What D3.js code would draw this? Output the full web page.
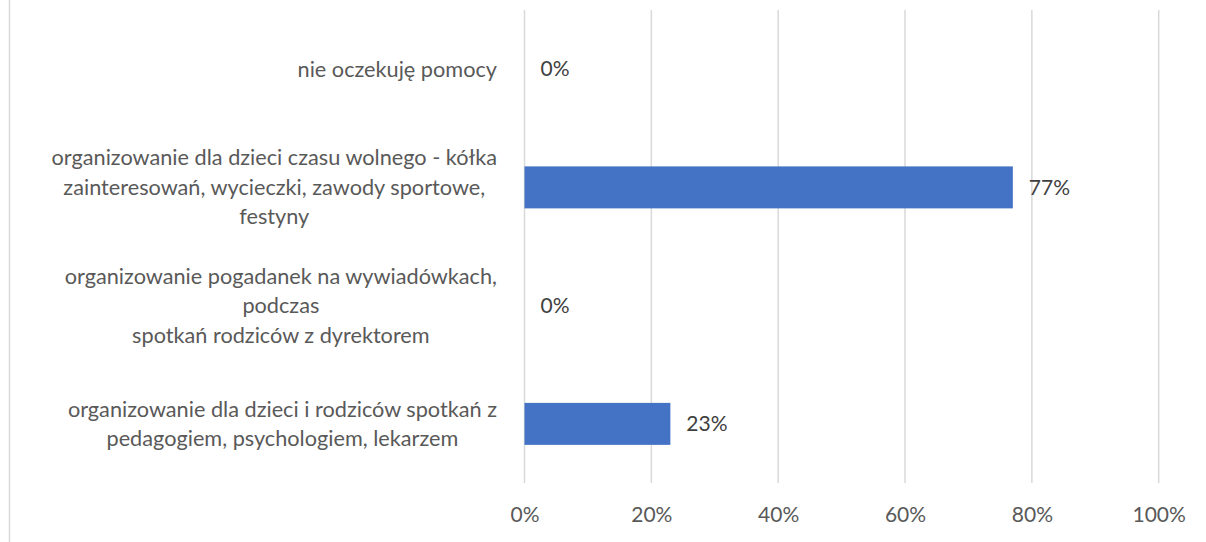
<!DOCTYPE html>
<html>
<head>
<meta charset="utf-8">
<script src="https://cdn.jsdelivr.net/npm/d3@7"></script>
<style>
  body { margin: 0; background: #fff; }
  svg text { font-family: Lato, "Liberation Sans", sans-serif; }
</style>
</head>
<body>
<script>
// dane
var categories = [
  "nie oczekuję pomocy",
  "organizowanie dla dzieci czasu wolnego - kółka\nzainteresowań, wycieczki, zawody sportowe,\nfestyny",
  "organizowanie pogadanek na wywiadówkach,\npodczas\nspotkań rodziców z dyrektorem",
  "organizowanie dla dzieci i rodziców spotkań z\npedagogiem, psychologiem, lekarzem"
];
var values = [0, 77, 0, 23];
var tickValues = [0, 20, 40, 60, 80, 100];

var width = 1206, height = 542;
var plotLeft = 524.5, plotRight = 1158.7, plotTop = 10, plotBottom = 483;
var fontSize = 21, labelFontSize = 21.7, lineHeight = 29.5, labelRight = 497;

var svg = d3.select("body").append("svg")
  .attr("width", width)
  .attr("height", height);

// ramka z lewej
svg.append("line")
  .attr("x1", 9.5).attr("x2", 9.5)
  .attr("y1", 0).attr("y2", height)
  .attr("stroke", "#d9d9d9").attr("stroke-width", 1.5);

var xScale = d3.scaleLinear().domain([0, 100]).range([plotLeft, plotRight]);
var yScale = d3.scaleBand().domain(categories).range([plotTop, plotBottom])
  .paddingInner(0.645).paddingOuter(0.3225);

// siatka
svg.append("g").selectAll("line").data(tickValues).enter()
  .append("line")
  .attr("x1", function(d){ return xScale(d); })
  .attr("x2", function(d){ return xScale(d); })
  .attr("y1", plotTop).attr("y2", plotBottom)
  .attr("stroke", "#d9d9d9").attr("stroke-width", 1.5);

// os x
var xAxis = d3.axisBottom(xScale).tickValues(tickValues)
  .tickFormat(function(d){ return d + "%"; }).tickSize(0).tickPadding(0);
var gx = svg.append("g").attr("transform", "translate(0," + plotBottom + ")").call(xAxis);
gx.select(".domain").remove();
gx.selectAll("text")
  .attr("dy", null)
  .attr("y", 39)
  .attr("font-size", fontSize)
  .attr("font-family", "Lato, sans-serif")
  .attr("fill", "#595959");

// staplar
svg.append("g").selectAll("rect").data(values).enter()
  .append("rect")
  .attr("x", xScale(0))
  .attr("y", function(d, i){ return yScale(categories[i]); })
  .attr("width", function(d){ return xScale(d) - xScale(0); })
  .attr("height", yScale.bandwidth())
  .attr("fill", "#4472c4");

// etykiety danych
svg.append("g").selectAll("text").data(values).enter()
  .append("text")
  .attr("x", function(d){ return xScale(d) + 16; })
  .attr("y", function(d, i){ return yScale(categories[i]) + yScale.bandwidth() / 2; })
  .attr("dy", "0.35em")
  .attr("font-size", fontSize)
  .attr("fill", "#404040")
  .text(function(d){ return d + "%"; });

// etykiety kategorii
categories.forEach(function(c){
  var lines = c.split("\n");
  var cy = yScale(c) + yScale.bandwidth() / 2;
  var g = svg.append("g");
  var texts = g.selectAll("text").data(lines).enter()
    .append("text")
    .attr("y", function(d, i){ return cy + (i - (lines.length - 1) / 2) * lineHeight; })
    .attr("dy", "0.35em")
    .attr("text-anchor", "middle")
    .attr("font-size", labelFontSize)
    .attr("fill", "#595959")
    .text(function(d){ return d; });
  var maxW = 0;
  texts.each(function(){ maxW = Math.max(maxW, this.getComputedTextLength()); });
  texts.attr("x", labelRight - maxW / 2);
});
</script>
</body>
</html>
